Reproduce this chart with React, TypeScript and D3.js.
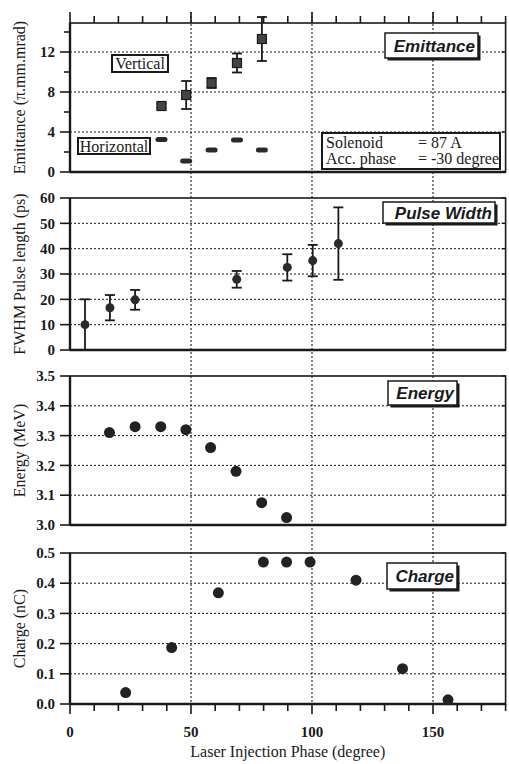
import React, { useEffect, useRef } from 'react'
import * as d3 from 'd3'

// emittance panel
const emitPhase = [37.8, 48, 58.5, 69, 79.3]
const emitVertical = [6.6, 7.7, 8.9, 10.9, 13.3]
const emitVerticalErr = [0.2, 1.4, 0.5, 0.95, 2.2]
const emitHorizontal = [3.25, 1.1, 2.2, 3.2, 2.2]

// pulse width panel
const pulsePhase = [6.2, 16.5, 26.9, 68.9, 89.8, 100.3, 110.9]
const pulseWidth = [10, 16.7, 19.8, 27.9, 32.6, 35.3, 42]
const pulseErr = [10, 5, 3.9, 3.3, 5.2, 6.2, 14.3]

// energy panel
const energyPhase = [16.3, 26.9, 37.5, 47.9, 58.1, 68.6, 79.2, 89.5]
const energy = [3.31, 3.33, 3.33, 3.32, 3.26, 3.18, 3.075, 3.025]

// charge panel
const chargePhase = [23, 42, 61.3, 79.9, 89.5, 99.2, 118.2, 137.4, 156.2]
const charge = [0.038, 0.187, 0.368, 0.47, 0.47, 0.47, 0.41, 0.117, 0.014]

const xTickLabels = [0, 50, 100, 150]

const SERIF = "'Liberation Serif', 'Times New Roman', 'DejaVu Serif', serif"
const SANS = "'Liberation Sans', Arial, sans-serif"
const INK = '#1a1a1a'

export default function App() {
  const ref = useRef<SVGSVGElement | null>(null)

  useEffect(() => {
    const svg = d3.select(ref.current)
    svg.selectAll('*').remove()

    const x = d3.scaleLinear().domain([0, 180]).range([70, 505.6])
    const left = x(0)
    const right = x(180)

    const panels = [
      {
        y: d3.scaleLinear().domain([0, 14.9]).range([172, 23]),
        labels: [0, 4, 8, 12],
        minor: [2, 6, 10, 14],
        grid: [4, 8, 12],
        fmt: (d: number) => String(d),
        title: 'Emittance (π.mm.mrad)',
        tag: 'Emittance',
        tagBox: [385, 33, 93, 25],
      },
      {
        y: d3.scaleLinear().domain([0, 60]).range([350, 198]),
        labels: [0, 10, 20, 30, 40, 50, 60],
        minor: [],
        grid: [10, 20, 30, 40, 50],
        fmt: (d: number) => String(d),
        title: 'FWHM Pulse length (ps)',
        tag: 'Pulse Width',
        tagBox: [383, 202, 112, 21],
      },
      {
        y: d3.scaleLinear().domain([3.0, 3.5]).range([525, 376]),
        labels: [3.0, 3.1, 3.2, 3.3, 3.4, 3.5],
        minor: [],
        grid: [3.1, 3.2, 3.3, 3.4],
        fmt: d3.format('.1f'),
        title: 'Energy (MeV)',
        tag: 'Energy',
        tagBox: [388, 381, 69, 24],
      },
      {
        y: d3.scaleLinear().domain([0, 0.5]).range([704, 553]),
        labels: [0, 0.1, 0.2, 0.3, 0.4, 0.5],
        minor: [],
        grid: [0.1, 0.2, 0.3, 0.4],
        fmt: d3.format('.1f'),
        title: 'Charge (nC)',
        tag: 'Charge',
        tagBox: [387, 563, 70, 26],
      },
    ]

    // vertical dotted grid across every panel
    svg
      .selectAll('.vgrid')
      .data([50, 100, 150])
      .enter()
      .append('line')
      .attr('x1', d => x(d))
      .attr('x2', d => x(d))
      .attr('y1', 12)
      .attr('y2', 704)
      .attr('stroke', INK)
      .attr('stroke-width', 1.1)
      .attr('stroke-dasharray', '2,2')

    panels.forEach(p => {
      const [top, bottom] = [p.y.range()[1], p.y.range()[0]]
      const g = svg.append('g')

      g.selectAll('.hgrid')
        .data(p.grid)
        .enter()
        .append('line')
        .attr('x1', left)
        .attr('x2', right)
        .attr('y1', d => p.y(d))
        .attr('y2', d => p.y(d))
        .attr('stroke', INK)
        .attr('stroke-width', 1)
        .attr('stroke-dasharray', '2,2')

      g.append('rect')
        .attr('x', left)
        .attr('y', top)
        .attr('width', right - left)
        .attr('height', bottom - top)
        .attr('fill', 'none')
        .attr('stroke', INK)
        .attr('stroke-width', 1.6)
      g.append('line')
        .attr('x1', left)
        .attr('x2', left)
        .attr('y1', top)
        .attr('y2', bottom)
        .attr('stroke', INK)
        .attr('stroke-width', 2.4)
      g.append('line')
        .attr('x1', left)
        .attr('x2', right)
        .attr('y1', bottom)
        .attr('y2', bottom)
        .attr('stroke', INK)
        .attr('stroke-width', 2.4)

      // left ticks
      g.selectAll('.ltick')
        .data(p.labels)
        .enter()
        .append('line')
        .attr('x1', left - 10)
        .attr('x2', left)
        .attr('y1', d => p.y(d))
        .attr('y2', d => p.y(d))
        .attr('stroke', INK)
        .attr('stroke-width', 1.6)
      g.selectAll('.mtick')
        .data(p.minor)
        .enter()
        .append('line')
        .attr('x1', left - 6)
        .attr('x2', left)
        .attr('y1', d => p.y(d))
        .attr('y2', d => p.y(d))
        .attr('stroke', INK)
        .attr('stroke-width', 1.6)
      // right ticks
      g.selectAll('.rtick')
        .data(p.labels)
        .enter()
        .append('line')
        .attr('x1', right - 4)
        .attr('x2', right)
        .attr('y1', d => p.y(d))
        .attr('y2', d => p.y(d))
        .attr('stroke', INK)
        .attr('stroke-width', 1.4)

      g.selectAll('.tlabel')
        .data(p.labels)
        .enter()
        .append('text')
        .attr('x', 55)
        .attr('y', d => p.y(d))
        .attr('dy', '0.35em')
        .attr('text-anchor', 'end')
        .style('font-family', SERIF)
        .attr('font-weight', 'bold')
        .attr('font-size', 15)
        .attr('fill', INK)
        .text(d => p.fmt(d))

      g.append('text')
        .attr('transform', `translate(25, ${(top + bottom) / 2}) rotate(-90)`)
        .attr('text-anchor', 'middle')
        .style('font-family', SERIF)
        .attr('font-size', 16)
        .attr('fill', INK)
        .text(p.title)

      // tag box with drop shadow
      const [bx, by, bw, bh] = p.tagBox
      g.append('rect')
        .attr('x', bx + 2.5)
        .attr('y', by + 2.5)
        .attr('width', bw)
        .attr('height', bh)
        .attr('fill', INK)
      g.append('rect')
        .attr('x', bx)
        .attr('y', by)
        .attr('width', bw)
        .attr('height', bh)
        .attr('fill', '#fff')
        .attr('stroke', INK)
        .attr('stroke-width', 1.5)
      g.append('text')
        .attr('x', bx + bw - 3)
        .attr('y', by + bh / 2)
        .attr('dy', '0.36em')
        .attr('text-anchor', 'end')
        .style('font-family', SANS)
        .attr('font-weight', 'bold')
        .attr('font-style', 'italic')
        .attr('font-size', 17)
        .attr('fill', INK)
        .text(p.tag)
    })

    // top axis ticks on the first panel
    const topY = panels[0].y.range()[1]
    svg
      .selectAll('.ttick')
      .data(d3.range(0, 181, 10))
      .enter()
      .append('line')
      .attr('x1', d => x(d))
      .attr('x2', d => x(d))
      .attr('y1', d => (d % 50 === 0 ? topY - 11 : topY - 7))
      .attr('y2', topY)
      .attr('stroke', INK)
      .attr('stroke-width', 1.6)

    // bottom axis ticks and labels
    const botY = panels[3].y.range()[0]
    svg
      .selectAll('.btick')
      .data(d3.range(0, 181, 10))
      .enter()
      .append('line')
      .attr('x1', d => x(d))
      .attr('x2', d => x(d))
      .attr('y1', botY)
      .attr('y2', d => (d % 50 === 0 ? botY + 10 : botY + 7))
      .attr('stroke', INK)
      .attr('stroke-width', 1.6)
    svg
      .selectAll('.blabel')
      .data(xTickLabels)
      .enter()
      .append('text')
      .attr('x', d => x(d))
      .attr('y', 737)
      .attr('text-anchor', 'middle')
      .style('font-family', SERIF)
      .attr('font-weight', 'bold')
      .attr('font-size', 15)
      .attr('fill', INK)
      .text(d => String(d))
    svg
      .append('text')
      .attr('x', x(90))
      .attr('y', 757)
      .attr('text-anchor', 'middle')
      .style('font-family', SERIF)
      .attr('font-size', 16)
      .attr('fill', INK)
      .text('Laser Injection Phase (degree)')

    // error bars helper
    const errBars = (yScale: d3.ScaleLinear<number, number>, xs: number[], ys: number[], es: number[], cap: number) => {
      const clipTop = yScale.range()[1] - 12
      const g = svg.append('g').attr('stroke', INK).attr('stroke-width', 1.8)
      xs.forEach((px, i) => {
        const y1 = Math.max(yScale(ys[i] + es[i]), clipTop)
        const y2 = yScale(ys[i] - es[i])
        g.append('line').attr('x1', x(px)).attr('x2', x(px)).attr('y1', y1).attr('y2', y2)
        g.append('line')
          .attr('x1', x(px) - cap)
          .attr('x2', x(px) + cap)
          .attr('y1', yScale(ys[i] + es[i]))
          .attr('y2', yScale(ys[i] + es[i]))
          .attr('visibility', yScale(ys[i] + es[i]) < clipTop ? 'hidden' : 'visible')
        g.append('line')
          .attr('x1', x(px) - cap)
          .attr('x2', x(px) + cap)
          .attr('y1', y2)
          .attr('y2', y2)
      })
    }

    const yE = panels[0].y
    errBars(yE, emitPhase, emitVertical, emitVerticalErr, 5)
    svg
      .selectAll('.vsq')
      .data(emitPhase)
      .enter()
      .append('rect')
      .attr('x', d => x(d) - 4.5)
      .attr('y', (d, i) => yE(emitVertical[i]) - 4.5)
      .attr('width', 9)
      .attr('height', 9)
      .attr('fill', '#444')
      .attr('stroke', INK)
      .attr('stroke-width', 1.2)
    svg
      .selectAll('.hdash')
      .data(emitPhase)
      .enter()
      .append('rect')
      .attr('x', d => x(d) - 6)
      .attr('y', (d, i) => yE(emitHorizontal[i]) - 2.5)
      .attr('width', 12)
      .attr('height', 5)
      .attr('rx', 2.5)
      .attr('fill', '#2a2a2a')

    // series labels in panel 1
    const boxLabel = (text: string, bx: number, by: number, bw: number, bh: number) => {
      svg.append('rect')
        .attr('x', bx)
        .attr('y', by)
        .attr('width', bw)
        .attr('height', bh)
        .attr('fill', '#fff')
        .attr('stroke', INK)
        .attr('stroke-width', 2)
      svg.append('text')
        .attr('x', bx + bw / 2)
        .attr('y', by + bh / 2)
        .attr('dy', '0.35em')
        .attr('text-anchor', 'middle')
        .style('font-family', SERIF)
        .attr('font-size', 16)
        .attr('fill', INK)
        .text(text)
    }
    boxLabel('Vertical', 112, 55, 56, 17)
    boxLabel('Horizontal', 78, 138, 72, 16)

    svg.append('rect')
      .attr('x', 322)
      .attr('y', 133)
      .attr('width', 178)
      .attr('height', 36)
      .attr('fill', '#fff')
      .attr('stroke', INK)
      .attr('stroke-width', 2)
    const info = [
      ['Solenoid', '= 87 A'],
      ['Acc. phase', '= -30 degree'],
    ]
    info.forEach(([k, v], i) => {
      svg.append('text')
        .attr('x', 326)
        .attr('y', 148 + i * 16)
        .style('font-family', SERIF)
        .attr('font-size', 16)
        .attr('fill', INK)
        .text(k)
      svg.append('text')
        .attr('x', 418)
        .attr('y', 148 + i * 16)
        .style('font-family', SERIF)
        .attr('font-size', 16)
        .attr('fill', INK)
        .text(v)
    })

    // pulse width
    const yP = panels[1].y
    errBars(yP, pulsePhase, pulseWidth, pulseErr, 5)
    svg
      .selectAll('.pdot')
      .data(pulsePhase)
      .enter()
      .append('circle')
      .attr('cx', d => x(d))
      .attr('cy', (d, i) => yP(pulseWidth[i]))
      .attr('r', 4.5)
      .attr('fill', '#2a2a2a')

    // energy
    const yEn = panels[2].y
    svg
      .selectAll('.edot')
      .data(energyPhase)
      .enter()
      .append('circle')
      .attr('cx', d => x(d))
      .attr('cy', (d, i) => yEn(energy[i]))
      .attr('r', 5.5)
      .attr('fill', '#222')

    // charge
    const yC = panels[3].y
    svg
      .selectAll('.cdot')
      .data(chargePhase)
      .enter()
      .append('circle')
      .attr('cx', d => x(d))
      .attr('cy', (d, i) => yC(charge[i]))
      .attr('r', 5.5)
      .attr('fill', '#222')
  }, [])

  return (
    <svg
      ref={ref}
      width={509}
      height={764}
      style={{ position: 'absolute', left: 0, top: 0, background: '#fff' }}
    />
  )
}
